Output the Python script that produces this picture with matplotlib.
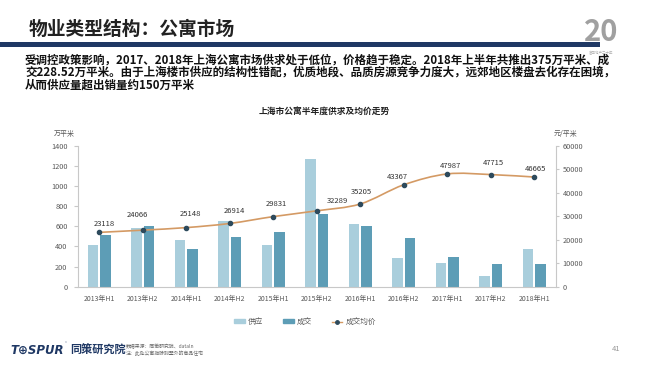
import numpy as np
import matplotlib.pyplot as plt
from matplotlib.patches import Rectangle, Patch, PathPatch
from matplotlib.lines import Line2D
from matplotlib.path import Path

plt.rcParams['font.family'] = ['Noto Sans CJK SC', 'DejaVu Sans']

# data
periods = ['2013年H1', '2013年H2', '2014年H1', '2014年H2', '2015年H1', '2015年H2',
           '2016年H1', '2016年H2', '2017年H1', '2017年H2', '2018年H1']
supply = [417, 587, 460, 657, 410, 1270, 627, 283, 238, 103, 375]
deal = [510, 607, 377, 493, 543, 717, 603, 483, 290, 227, 228.52]
avg_price = [23118, 24066, 25148, 26914, 29831, 32289, 35205, 43367, 47987, 47715, 46665]

left_ticks = [0, 200, 400, 600, 800, 1000, 1200, 1400]
right_ticks = [0, 10000, 20000, 30000, 40000, 50000, 60000]

c_supply = '#a9cedc'
c_deal = '#5d9db6'
c_line = '#d49a64'
c_mark = '#2d4a5c'
c_navy = '#1f3864'
c_tick = '#595959'
c_axis = '#c8c8c8'

W, H = 650, 365
fig = plt.figure(figsize=(6.5, 3.65), dpi=100)


def fx(x):
    return x / W


def fy(y):
    return 1 - y / H


# header
fig.text(fx(29), fy(29), '物业类型结构：公寓市场', fontsize=13.5, fontweight='bold',
         color='#222222', va='center', ha='left')
fig.patches.append(Rectangle((0, fy(46.5)), fx(600), 4.5 / H, transform=fig.transFigure,
                             color=c_navy, lw=0))
fig.text(fx(601), fy(32), '20', fontsize=21, fontweight='bold', color='#a0a0a0',
         ha='center', va='center')
fig.text(fx(601), fy(53), '富田地产二十年', fontsize=2.5, color='#b0b0b0', ha='center', va='center')

lines = ['受调控政策影响，2017、2018年上海公寓市场供求处于低位，价格趋于稳定。2018年上半年共推出375万平米、成',
         '交228.52万平米。由于上海楼市供应的结构性错配，优质地段、品质房源竞争力度大，远郊地区楼盘去化存在困境，',
         '从而供应量超出销量约150万平米']
for i, t in enumerate(lines):
    fig.text(fx(25), fy(60 + 12.5 * i), t, fontsize=8.3, fontweight='bold',
             color='#111111', va='center', ha='left')

fig.text(fx(324), fy(111), '上海市公寓半年度供求及均价走势', fontsize=6.3, fontweight='bold',
         color='#222222', ha='center', va='center')

# chart
ax = fig.add_axes([fx(77.5), fy(286.7), (556 - 77.5) / W, (286.7 - 145.7) / H])
ax2 = ax.twinx()
x = np.arange(len(periods))
bw = 0.235
ax.bar(x - 0.145, supply, bw, color=c_supply, zorder=2)
ax.bar(x + 0.145, deal, bw, color=c_deal, zorder=2)
ax.set_xlim(-0.5, len(periods) - 0.5)
ax.set_ylim(0, 1400)
ax.set_yticks(left_ticks)
ax2.set_ylim(0, 60000)
ax2.set_yticks(right_ticks)
ax.set_xticks(x)
ax.set_xticklabels(periods)

for a in (ax, ax2):
    for s in a.spines.values():
        s.set_visible(False)
    a.set_facecolor('none')
ax.spines['left'].set_visible(True)
ax.spines['bottom'].set_visible(True)
ax2.spines['right'].set_visible(True)
for s in (ax.spines['left'], ax.spines['bottom'], ax2.spines['right']):
    s.set_color(c_axis)
    s.set_linewidth(0.8)

ax.tick_params(axis='x', length=0, pad=6, labelsize=5, labelcolor=c_tick)
ax.tick_params(axis='y', length=2.7, width=0.8, color=c_axis, pad=4.5, labelsize=5.3, labelcolor=c_tick)
ax2.tick_params(axis='y', length=2.3, width=0.8, color=c_axis, pad=2.5, labelsize=5.3, labelcolor=c_tick)

# smoothed price line (excel-style bezier)
pts = np.column_stack([x, avg_price]).astype(float)
n = len(pts)
verts = [pts[0]]
codes = [Path.MOVETO]
for i in range(n - 1):
    p0 = pts[i - 1] if i > 0 else pts[i]
    p3 = pts[i + 2] if i + 2 < n else pts[i + 1]
    verts += [pts[i] + (pts[i + 1] - p0) / 6, pts[i + 1] - (p3 - pts[i]) / 6, pts[i + 1]]
    codes += [Path.CURVE4] * 3
ax2.add_patch(PathPatch(Path(verts, codes), fill=False, edgecolor=c_line, lw=1.2, zorder=3))
ax2.plot(x, avg_price, ls='none', marker='o', ms=3, color=c_mark, zorder=4)

# label offsets in pixels (dx, dy up)
offs = [(5, 8), (-5, 15), (4, 14), (5, 12), (3, 13), (21, 10), (1, 12), (-6, 8), (3, 8), (3, 12), (1, 8)]
for i, v in enumerate(avg_price):
    ax2.annotate(str(v), (x[i], v), xytext=offs[i], textcoords='offset pixels',
                 ha='center', va='center', fontsize=5.5, color='#333333')

fig.text(fx(64), fy(134), '万平米', fontsize=5, color=c_tick, ha='center', va='center')
fig.text(fx(566), fy(134), '元/平米', fontsize=5, color=c_tick, ha='center', va='center')

handles = [Patch(color=c_supply), Patch(color=c_deal),
           Line2D([0], [0], color=c_line, lw=1, marker='o', ms=2.5, mfc=c_mark, mec=c_mark)]
fig.legend(handles, ['供应', '成交', '成交均价'], loc='center', bbox_to_anchor=(fx(305), fy(322)),
           ncol=3, frameon=False, fontsize=5.5, handlelength=1.4, handleheight=0.45,
           columnspacing=2.6, handletextpad=0.4, labelcolor=c_tick)

# footer
fig.text(fx(10), fy(350), 'T⊕SPUR', fontsize=8.5, fontweight='bold', style='italic',
         color=c_navy, ha='left', va='center', family=['DejaVu Sans'])
fig.text(fx(65), fy(343), '®', fontsize=3, color=c_navy, ha='left', va='center')
fig.text(fx(70), fy(350), '同策研究院', fontsize=8, fontweight='bold', color=c_navy,
         ha='left', va='center')
fig.text(fx(126), fy(347), '数据来源：同策研究院、dataln', fontsize=3.5, color='#666666',
         ha='left', va='center')
fig.text(fx(126), fy(353), '注：此处公寓指除别墅外的商品住宅', fontsize=3.5, color='#666666',
         ha='left', va='center')
fig.text(fx(616), fy(349), '41', fontsize=5.5, color='#999999', ha='center', va='center')

fig.savefig('out.png', dpi=100)
